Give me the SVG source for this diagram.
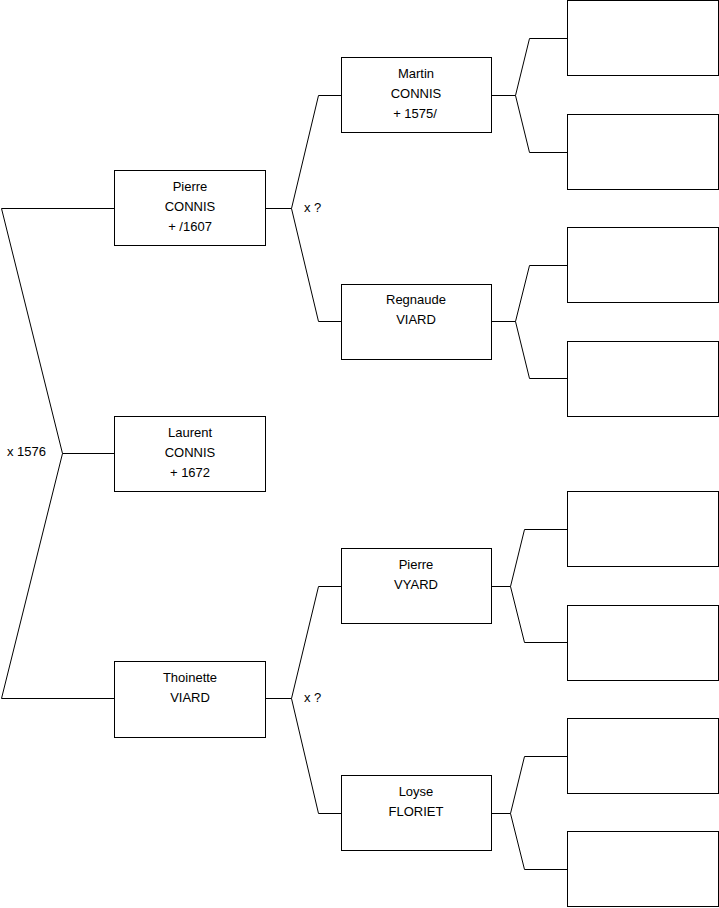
<svg xmlns="http://www.w3.org/2000/svg" width="719" height="908" viewBox="0 0 719 908">
<style>
.box{fill:#fff;stroke:#000;stroke-width:1}
.ln{fill:none;stroke:#000;stroke-width:1}
text{font-family:"Liberation Sans",Arial,sans-serif;font-size:13px;fill:#000}
.c{text-anchor:middle}
</style>
<rect width="719" height="908" fill="#fff"/>
<g id="connectors">
<polyline class="ln" points="114,208.5 1.5,208.5 62.5,453.5 1.5,698.5 114,698.5"/>
<line class="ln" x1="62.5" y1="453.5" x2="114" y2="453.5"/>
<polyline class="ln" points="341,95.5 318.5,95.5 291.5,208.5 318.5,321.5 341,321.5"/>
<line class="ln" x1="265" y1="208.5" x2="291.5" y2="208.5"/>
<polyline class="ln" points="341,586.5 318.5,586.5 291.5,698.5 318.5,813.5 341,813.5"/>
<line class="ln" x1="265" y1="698.5" x2="291.5" y2="698.5"/>
<polyline class="ln" points="567,38.5 529.5,38.5 515.5,95.5 529.5,152.5 567,152.5"/>
<line class="ln" x1="492" y1="95.5" x2="515.5" y2="95.5"/>
<polyline class="ln" points="567,265.5 529.5,265.5 515.5,321.5 529.5,378.5 567,378.5"/>
<line class="ln" x1="492" y1="321.5" x2="515.5" y2="321.5"/>
<polyline class="ln" points="567,529.5 524.5,529.5 510.5,586.5 524.5,642.5 567,642.5"/>
<line class="ln" x1="492" y1="586.5" x2="510.5" y2="586.5"/>
<polyline class="ln" points="567,756.5 524.5,756.5 510.5,813.5 524.5,869.5 567,869.5"/>
<line class="ln" x1="492" y1="813.5" x2="510.5" y2="813.5"/>
<text x="304" y="212">x ?</text>
<text x="304" y="702">x ?</text>
<text x="7" y="456">x 1576</text>
</g>
<g id="pierre-connis">
<rect class="box" x="114.5" y="170.5" width="151" height="75"/>
<text class="c" x="190" y="191">Pierre</text>
<text class="c" x="190" y="211">CONNIS</text>
<text class="c" x="190" y="231">+ /1607</text>
</g>
<g id="laurent-connis">
<rect class="box" x="114.5" y="416.5" width="151" height="75"/>
<text class="c" x="190" y="437">Laurent</text>
<text class="c" x="190" y="457">CONNIS</text>
<text class="c" x="190" y="477">+ 1672</text>
</g>
<g id="thoinette-viard">
<rect class="box" x="114.5" y="661.5" width="151" height="76"/>
<text class="c" x="190" y="682">Thoinette</text>
<text class="c" x="190" y="702">VIARD</text>
</g>
<g id="martin-connis">
<rect class="box" x="341.5" y="57.5" width="150" height="75"/>
<text class="c" x="416" y="78">Martin</text>
<text class="c" x="416" y="98">CONNIS</text>
<text class="c" x="415" y="118">+ 1575/</text>
</g>
<g id="regnaude-viard">
<rect class="box" x="341.5" y="284.5" width="150" height="75"/>
<text class="c" x="416" y="304">Regnaude</text>
<text class="c" x="416" y="324">VIARD</text>
</g>
<g id="pierre-vyard">
<rect class="box" x="341.5" y="548.5" width="150" height="75"/>
<text class="c" x="416" y="569">Pierre</text>
<text class="c" x="416" y="589">VYARD</text>
</g>
<g id="loyse-floriet">
<rect class="box" x="341.5" y="775.5" width="150" height="75"/>
<text class="c" x="416" y="796">Loyse</text>
<text class="c" x="416" y="816">FLORIET</text>
</g>
<g id="a1"><rect class="box" x="567.5" y="0.5" width="151" height="75"/></g>
<g id="a2"><rect class="box" x="567.5" y="114.5" width="151" height="75"/></g>
<g id="a3"><rect class="box" x="567.5" y="227.5" width="151" height="75"/></g>
<g id="a4"><rect class="box" x="567.5" y="341.5" width="151" height="75"/></g>
<g id="a5"><rect class="box" x="567.5" y="491.5" width="151" height="75"/></g>
<g id="a6"><rect class="box" x="567.5" y="605.5" width="151" height="75"/></g>
<g id="a7"><rect class="box" x="567.5" y="718.5" width="151" height="75"/></g>
<g id="a8"><rect class="box" x="567.5" y="831.5" width="151" height="75"/></g>
</svg>
